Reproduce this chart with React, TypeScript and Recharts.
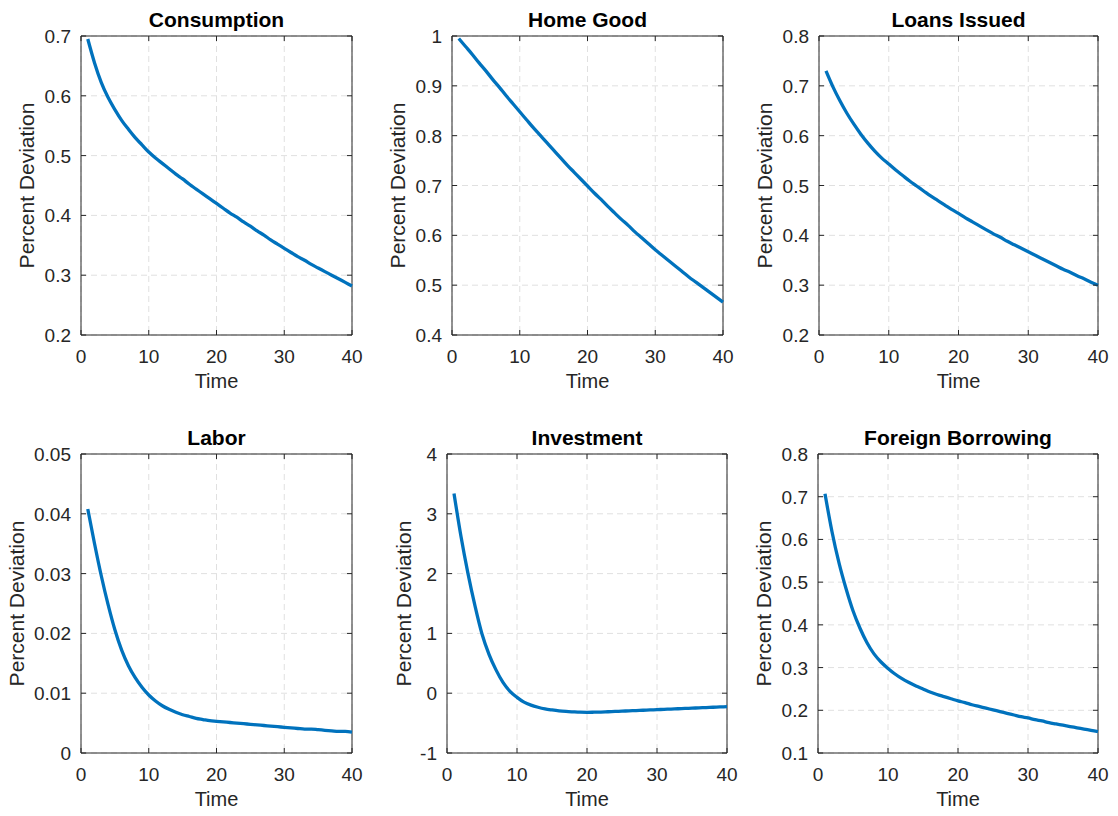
import { LineChart, Line, XAxis, YAxis, CartesianGrid, ReferenceArea } from "recharts";

const time = [
  1, 2, 3, 4, 5, 6, 7, 8, 9, 10, 11, 12, 13, 14, 15, 16, 17, 18, 19, 20,
  21, 22, 23, 24, 25, 26, 27, 28, 29, 30, 31, 32, 33, 34, 35, 36, 37, 38, 39, 40,
];
const timeTicks = [0, 10, 20, 30, 40];

const consumption = [
  0.695, 0.655, 0.622, 0.597, 0.577, 0.559, 0.544, 0.530, 0.518, 0.506,
  0.496, 0.487, 0.478, 0.469, 0.461, 0.452, 0.444, 0.436, 0.428, 0.420,
  0.412, 0.404, 0.397, 0.389, 0.382, 0.374, 0.367, 0.359, 0.352, 0.345,
  0.338, 0.331, 0.325, 0.318, 0.312, 0.306, 0.300, 0.294, 0.288, 0.282,
];
const homeGood = [
  0.995, 0.979, 0.963, 0.946, 0.930, 0.913, 0.897, 0.880, 0.864, 0.848,
  0.832, 0.816, 0.801, 0.786, 0.771, 0.756, 0.741, 0.727, 0.713, 0.699,
  0.685, 0.672, 0.658, 0.645, 0.632, 0.620, 0.607, 0.595, 0.583, 0.571,
  0.560, 0.549, 0.538, 0.527, 0.516, 0.506, 0.496, 0.486, 0.476, 0.466,
];
const loansIssued = [
  0.730, 0.698, 0.670, 0.645, 0.623, 0.603, 0.585, 0.569, 0.555, 0.543,
  0.531, 0.520, 0.509, 0.499, 0.489, 0.479, 0.470, 0.461, 0.452, 0.444,
  0.435, 0.427, 0.419, 0.411, 0.403, 0.396, 0.388, 0.381, 0.374, 0.367,
  0.360, 0.353, 0.346, 0.339, 0.332, 0.326, 0.319, 0.313, 0.306, 0.300,
];
const labor = [
  0.0408, 0.0350, 0.0296, 0.0248, 0.0206, 0.0172, 0.0146, 0.0126, 0.0110, 0.0097,
  0.0087, 0.0079, 0.0073, 0.0068, 0.0064, 0.0061, 0.0058, 0.0056, 0.0054, 0.0053,
  0.0052, 0.0051, 0.0050, 0.0049, 0.0048, 0.0047, 0.0046, 0.0045, 0.0044, 0.0043,
  0.0042, 0.0041, 0.0040, 0.0040, 0.0039, 0.0038, 0.0037, 0.0036, 0.0036, 0.0035,
];
const investment = [
  3.34, 2.62, 2.0, 1.46, 0.99, 0.65, 0.39, 0.18, 0.03, -0.07,
  -0.15, -0.2, -0.235, -0.262, -0.28, -0.295, -0.305, -0.312, -0.318, -0.32,
  -0.318, -0.315, -0.31, -0.305, -0.3, -0.295, -0.29, -0.285, -0.28, -0.275,
  -0.27, -0.265, -0.26, -0.255, -0.25, -0.245, -0.24, -0.235, -0.23, -0.225,
];
const foreignBorrowing = [
  0.707, 0.618, 0.545, 0.485, 0.433, 0.392, 0.358, 0.332, 0.313, 0.298,
  0.285, 0.274, 0.265, 0.257, 0.250, 0.243, 0.237, 0.232, 0.227, 0.222,
  0.218, 0.213, 0.209, 0.205, 0.201, 0.197, 0.193, 0.189, 0.185, 0.182,
  0.178, 0.175, 0.171, 0.168, 0.165, 0.162, 0.159, 0.156, 0.153, 0.150,
];

const consumptionTicks = [0.2, 0.3, 0.4, 0.5, 0.6, 0.7];
const homeGoodTicks = [0.4, 0.5, 0.6, 0.7, 0.8, 0.9, 1];
const loansTicks = [0.2, 0.3, 0.4, 0.5, 0.6, 0.7, 0.8];
const laborTicks = [0, 0.01, 0.02, 0.03, 0.04, 0.05];
const investmentTicks = [-1, 0, 1, 2, 3, 4];
const foreignTicks = [0.1, 0.2, 0.3, 0.4, 0.5, 0.6, 0.7, 0.8];

const FONT = '"Liberation Sans", Arial, Helvetica, sans-serif';
const AXIS = "#262626";
const BLUE = "#0072BD";

// left, top, right, bottom of each plot box, and where the y label baseline sits
const panels = [
  { title: "Consumption", values: consumption, ticks: consumptionTicks, box: [81, 36, 352, 335], yLabelX: 33.5 },
  { title: "Home Good", values: homeGood, ticks: homeGoodTicks, box: [452, 36, 723, 335], yLabelX: 404.5 },
  { title: "Loans Issued", values: loansIssued, ticks: loansTicks, box: [819, 36, 1098, 335], yLabelX: 772 },
  { title: "Labor", values: labor, ticks: laborTicks, box: [81, 454, 352, 753], yLabelX: 23.5 },
  { title: "Investment", values: investment, ticks: investmentTicks, box: [447, 454, 727, 753], yLabelX: 410.5 },
  { title: "Foreign Borrowing", values: foreignBorrowing, ticks: foreignTicks, box: [818, 454, 1098, 753], yLabelX: 771 },
];

const L = 80;
const T = 40;
const R = 12;
const B = 70;

const XTick = ({ x, y, payload, plotH }: any) => (
  <g>
    <line x1={x} y1={y} x2={x} y2={y - 5} stroke={AXIS} />
    <line x1={x} y1={y - plotH} x2={x} y2={y - plotH + 5} stroke={AXIS} />
    <text x={x} y={y + 28} textAnchor="middle" fontSize={19} fontFamily={FONT} fill={AXIS}>
      {String(payload.value)}
    </text>
  </g>
);

const YTick = ({ x, y, payload, plotW }: any) => (
  <g>
    <line x1={x} y1={y} x2={x + 5} y2={y} stroke={AXIS} />
    <line x1={x + plotW} y1={y} x2={x + plotW - 5} y2={y} stroke={AXIS} />
    <text x={x - 10} y={y + 7} textAnchor="end" fontSize={19} fontFamily={FONT} fill={AXIS}>
      {String(payload.value)}
    </text>
  </g>
);

const Panel = ({ values, ticks, box }: any) => {
  const [left, top, right, bottom] = box;
  const plotW = right - left;
  const plotH = bottom - top;
  const rows = time.map((t, i) => ({ t, v: values[i] }));
  const yMin = ticks[0];
  const yMax = ticks[ticks.length - 1];
  return (
    <div style={{ position: "absolute", left: left - L, top: top - T }}>
      <LineChart
        width={plotW + L + R}
        height={plotH + T + B}
        data={rows}
        margin={{ top: T, right: R, bottom: 0, left: 0 }}
      >
        <CartesianGrid stroke="#e0e0e0" strokeDasharray="6 4" />
        <XAxis
          dataKey="t"
          type="number"
          domain={[0, 40]}
          ticks={timeTicks}
          interval={0}
          height={B}
          tickSize={0}
          tickMargin={0}
          axisLine={false}
          tickLine={false}
          tick={<XTick plotH={plotH} />}
        />
        <YAxis
          type="number"
          domain={[yMin, yMax]}
          ticks={ticks}
          interval={0}
          width={L}
          tickSize={0}
          tickMargin={0}
          axisLine={false}
          tickLine={false}
          tick={<YTick plotW={plotW} />}
        />
        <ReferenceArea x1={0} x2={40} y1={yMin} y2={yMax} fill="none" stroke={AXIS} strokeWidth={1} />
        <Line
          type="monotone"
          dataKey="v"
          stroke={BLUE}
          strokeWidth={3.3}
          dot={false}
          activeDot={false}
          isAnimationActive={false}
        />
      </LineChart>
    </div>
  );
};

export default function App() {
  return (
    <div style={{ position: "absolute", left: 0, top: 0, width: 1118, height: 816, background: "#fff" }}>
      {panels.map((p) => (
        <Panel key={p.title} {...p} />
      ))}
      <svg
        width={1118}
        height={816}
        style={{ position: "absolute", left: 0, top: 0, pointerEvents: "none" }}
      >
        {panels.map((p) => {
          const [left, top, right, bottom] = p.box;
          const cx = (left + right) / 2;
          const cy = (top + bottom) / 2;
          return (
            <g key={p.title} fontFamily={FONT}>
              <text x={cx} y={top - 9} textAnchor="middle" fontSize={21} fontWeight="bold" fill="#000">
                {p.title}
              </text>
              <text x={cx} y={bottom + 53} textAnchor="middle" fontSize={20} fill={AXIS}>
                Time
              </text>
              <text
                transform={`translate(${p.yLabelX},${cy}) rotate(-90)`}
                textAnchor="middle"
                fontSize={21}
                fill={AXIS}
              >
                Percent Deviation
              </text>
            </g>
          );
        })}
      </svg>
    </div>
  );
}
